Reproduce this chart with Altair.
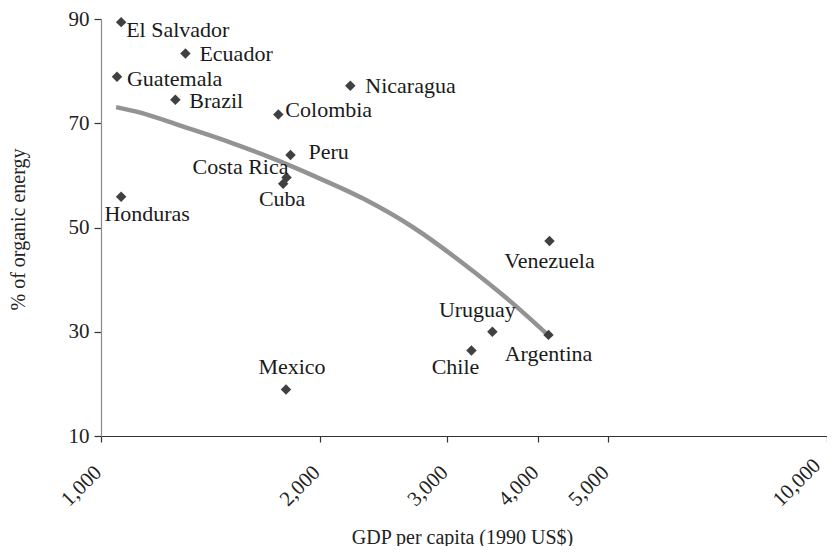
import altair as alt
import pandas as pd

# ---- data ----
countries = ["El Salvador", "Ecuador", "Guatemala", "Brazil", "Colombia", "Nicaragua",
             "Peru", "Costa Rica", "Cuba", "Honduras", "Mexico", "Venezuela",
             "Uruguay", "Chile", "Argentina"]
gdp = [1066, 1307, 1052, 1266, 1755, 2205, 1824, 1801, 1782, 1066, 1798, 4147, 3460, 3238, 4134]
organic = [89.4, 83.4, 78.9, 74.5, 71.7, 77.2, 63.9, 59.6, 58.4, 55.9, 18.9, 47.4, 30.0, 26.4, 29.4]

trend_gdp = [1049, 1136, 1289, 1509, 1713, 1964, 2300, 2693, 3154, 3694, 4126]
trend_pct = [73.1, 72.0, 69.5, 66.3, 63.4, 59.9, 55.5, 50.0, 43.1, 35.4, 29.4]

x_ticks = [1000, 2000, 3000, 4000, 5000, 10000]
y_ticks = [10, 30, 50, 70, 90]

# label placement (style only): align, dx, dy
label_style = {
    "El Salvador": ("left", 5, 8),
    "Ecuador": ("left", 14, 1),
    "Guatemala": ("left", 10, 2),
    "Brazil": ("left", 14, 1),
    "Colombia": ("left", 7, -4),
    "Nicaragua": ("left", 15, 0),
    "Peru": ("left", 18, -3),
    "Costa Rica": ("right", 2, -10),
    "Cuba": ("center", -1, 15),
    "Honduras": ("center", 26, 17),
    "Mexico": ("center", 6, -23),
    "Venezuela": ("center", 0, 20),
    "Uruguay": ("center", -15, -22),
    "Chile": ("center", -16, 16),
    "Argentina": ("center", 0, 19),
}

FONT = "Liberation Serif"

df = pd.DataFrame({"country": countries, "gdp": gdp, "organic": organic})
trend = pd.DataFrame({"gdp": trend_gdp, "organic": trend_pct})

x_enc = alt.X(
    "gdp:Q",
    scale=alt.Scale(type="log", domain=[1000, 10000], nice=False),
    axis=alt.Axis(
        values=x_ticks, format=",", title="GDP per capita (1990 US$)",
        labelAngle=315, labelAlign="right", labelBaseline="middle",
        labelPadding={"condition": {"test": "datum.value >= 10000", "value": 20}, "value": 27},
        labelOffset={"condition": {"test": "datum.value >= 10000", "value": -10}, "value": -3},
        tickSize=6, grid=False,
        domainColor="#333333", tickColor="#333333",
        titleX=361, titleY=101, titleAlign="center", titleBaseline="middle",
        labelFlush=False, labelOverlap=False,
    ),
)
y_enc = alt.Y(
    "organic:Q",
    scale=alt.Scale(domain=[10, 90], nice=False, zero=False),
    axis=alt.Axis(
        values=y_ticks, title="% of organic energy", grid=False,
        tickSize=7, labelPadding=5,
        domainColor="#8a8a8a", tickColor="#333333",
        titleX=-83, titleY=210, titleAngle=270, titleAlign="center",
        titleBaseline="middle", labelFlush=False,
    ),
)

line = alt.Chart(trend).mark_line(
    color="#939393", strokeWidth=4.5, interpolate="monotone"
).encode(x=x_enc, y=y_enc)

points = alt.Chart(df).mark_point(
    shape="diamond", filled=True, size=110, color="#404040", opacity=1
).encode(x=x_enc, y=y_enc)

labels = []
for name in countries:
    align, dx, dy = label_style[name]
    labels.append(
        alt.Chart(df)
        .transform_filter(alt.datum.country == name)
        .mark_text(font=FONT, fontSize=22, color="#1a1a1a", align=align,
                   baseline="middle", dx=dx, dy=dy)
        .encode(x=x_enc, y=y_enc, text="country:N")
    )

chart = (
    alt.layer(line, points, *labels)
    .properties(
        width=726, height=417,
        autosize=alt.AutoSizeParams(type="none"),
        padding={"left": 93, "top": 11, "right": 0, "bottom": 110},
    )
    .configure_view(stroke=None)
    .configure_axis(
        labelFont=FONT, labelFontSize=21, labelColor="#222222",
        titleFont=FONT, titleFontSize=20, titleColor="#222222", titleFontWeight="normal",
        domainWidth=1.2, tickWidth=1.2,
    )
)

chart.save("out.html", embed_options={"renderer": "svg", "actions": False})
